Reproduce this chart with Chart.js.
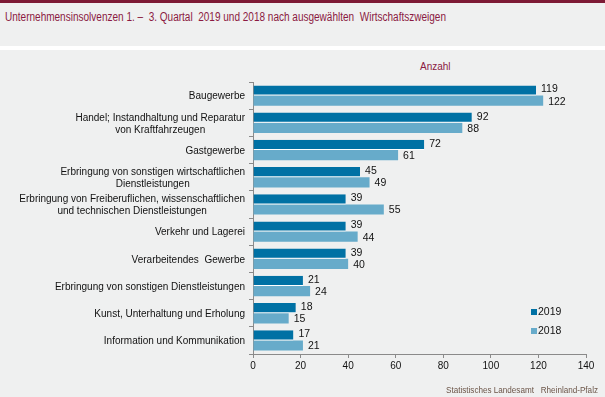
<!DOCTYPE html>
<html><head><meta charset="utf-8">
<script src="https://cdn.jsdelivr.net/npm/chart.js@4/dist/chart.umd.min.js"></script>
<style>
html,body{margin:0;padding:0;background:#eff0f0;}
#wrap{position:relative;width:605px;height:397px;background:#eff0f0;overflow:hidden;font-family:"Liberation Sans",Arial,sans-serif;}
#topbar{position:absolute;left:0;top:0;width:605px;height:3px;background:#7d1a35;}
#title{position:absolute;left:5px;top:10px;font-size:12.5px;color:#8b1a42;white-space:nowrap;transform-origin:0 0;}
#sep{position:absolute;left:0;top:46px;width:605px;height:4px;background:#ffffff;}
#unit{position:absolute;left:420px;top:61px;font-size:10px;color:#8b1a42;}
#source{position:absolute;left:446px;top:384px;font-size:9.5px;color:#6b5548;white-space:nowrap;transform-origin:0 0;}
canvas{position:absolute;left:0;top:0;}
</style></head>
<body>
<div id="wrap">
<div id="topbar"></div>
<div id="title">Unternehmensinsolvenzen 1. –&nbsp; 3. Quartal&nbsp; 2019 und 2018 nach ausgewählten&nbsp; Wirtschaftszweigen</div>
<div id="sep"></div>
<div id="unit">Anzahl</div>
<canvas id="c" width="605" height="397"></canvas>
<div id="source">Statistisches Landesamt&nbsp;&nbsp; Rheinland-Pfalz</div>
</div>
<script>
const categories = [
  ["Baugewerbe"],
  ["Handel; Instandhaltung und Reparatur", "von Kraftfahrzeugen"],
  ["Gastgewerbe"],
  ["Erbringung von sonstigen wirtschaftlichen", "Dienstleistungen"],
  ["Erbringung von Freiberuflichen, wissenschaftlichen", "und technischen Dienstleistungen"],
  ["Verkehr und Lagerei"],
  ["Verarbeitendes  Gewerbe"],
  ["Erbringung von sonstigen Dienstleistungen"],
  ["Kunst, Unterhaltung und Erholung"],
  ["Information und Kommunikation"]
];
const values2019 = [119, 92, 72, 45, 39, 39, 39, 21, 18, 17];
const values2018 = [122, 88, 61, 49, 55, 44, 40, 24, 15, 21];
const seriesLabels = ["2019", "2018"];
const xTicks = [0, 20, 40, 60, 80, 100, 120, 140];

// condense header/footer text to the reference widths
function fitWidth(id, w) {
  const el = document.getElementById(id);
  const cur = el.getBoundingClientRect().width;
  el.style.transform = 'scaleX(' + (w / cur) + ')';
}
fitWidth('title', 441);
fitWidth('source', 152);

const FONT = '"Liberation Sans", Arial, sans-serif';

const customPlugin = {
  id: 'custom',
  afterDraw(chart) {
    const ctx = chart.ctx;
    const y = chart.scales.y;
    ctx.save();
    ctx.font = '10px ' + FONT;
    ctx.fillStyle = '#111';
    ctx.textBaseline = 'middle';
    ctx.textAlign = 'center';
    const lh = 12;
    categories.forEach((lines, i) => {
      const cy = y.getPixelForTick(i) + 1;
      const maxW = Math.max(...lines.map(l => ctx.measureText(l).width));
      const cx = 245 - maxW / 2;
      const start = cy - (lines.length - 1) * lh / 2;
      lines.forEach((l, k) => ctx.fillText(l, cx, start + k * lh));
    });
    ctx.textAlign = 'left';
    ctx.font = '10.5px ' + FONT;
    chart.data.datasets.forEach((ds, di) => {
      const meta = chart.getDatasetMeta(di);
      meta.data.forEach((bar, i) => {
        ctx.fillText(String(ds.data[i]), bar.x + 5, bar.y + (di === 0 ? -1 : 1));
      });
    });
    const lx = 531, ly = [312, 331];
    chart.data.datasets.forEach((ds, di) => {
      ctx.fillStyle = ds.backgroundColor;
      ctx.fillRect(lx, ly[di] - 3, 6, 6);
      ctx.fillStyle = '#111';
      ctx.font = '10.5px ' + FONT;
      ctx.fillText(ds.label, lx + 7, ly[di]);
    });
    ctx.restore();
  }
};

new Chart(document.getElementById('c'), {
  type: 'bar',
  data: {
    labels: categories.map(c => c.join(' ')),
    datasets: [
      { label: seriesLabels[0], data: values2019, backgroundColor: '#0071a4',
        borderColor: '#ffffff', borderWidth: {top:0,left:0,right:0,bottom:1}, borderSkipped: false },
      { label: seriesLabels[1], data: values2018, backgroundColor: '#67abca', borderWidth: 0 }
    ]
  },
  options: {
    indexAxis: 'y',
    responsive: false,
    animation: false,
    devicePixelRatio: 1,
    datasets: { bar: { categoryPercentage: 0.75, barPercentage: 1.0 } },
    layout: { padding: { left: 0, right: 19, top: 82, bottom: 23 } },
    plugins: { legend: { display: false }, tooltip: { enabled: false } },
    scales: {
      x: {
        min: 0, max: 140,
        afterFit(s) { s.height = 20; },
        afterBuildTicks(s) { s.ticks = xTicks.map(v => ({ value: v })); },
        border: { display: true, color: '#8a8a8a', width: 1 },
        grid: { drawOnChartArea: false, drawTicks: true, tickLength: 4, color: '#8a8a8a' },
        ticks: { color: '#111', font: { family: FONT, size: 10 }, padding: 2, maxRotation: 0 }
      },
      y: {
        afterFit(s) { s.width = 253; },
        border: { display: true, color: '#8a8a8a', width: 1 },
        grid: { offset: true, drawOnChartArea: false, drawTicks: true, tickLength: 4, color: '#8a8a8a' },
        ticks: { color: 'rgba(0,0,0,0)', font: { family: FONT, size: 10 } }
      }
    }
  },
  plugins: [customPlugin]
});
</script>
</body></html>
